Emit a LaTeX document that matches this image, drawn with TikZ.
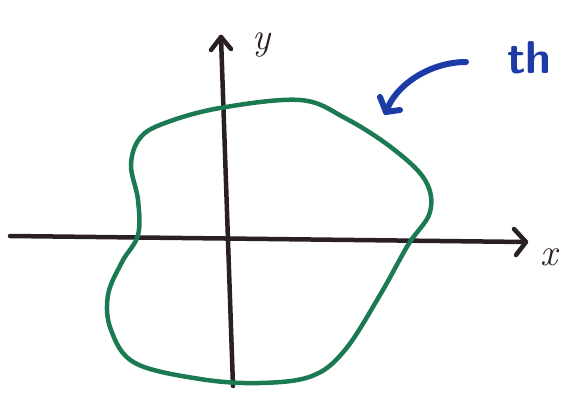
\documentclass[tikz,border=0pt]{standalone}
\usepackage{tikz}
\usetikzlibrary{positioning}
\definecolor{inkblack}{HTML}{2A1F24}
\definecolor{inkgreen}{HTML}{1B7A52}
\definecolor{inkblue}{HTML}{1D3BA6}
\begin{document}
\begin{tikzpicture}[x=1pt, y=-1pt,
    axis/.style={draw=inkblack, line width=4.5pt, line cap=round, line join=round},
    loop/.style={draw=inkgreen, line width=4.5pt},
    pointer/.style={draw=inkblue, line width=6pt, line cap=round, line join=round},
    label/.style={text=inkblack, font=\fontsize{38}{38}\selectfont\itshape, inner sep=0pt}
]
    \useasboundingbox (0,0) rectangle (563,412);

    % Axes
    \coordinate (xstart) at (10,236);
    \coordinate (xend) at (526,242);
    \coordinate (ystart) at (233,386);
    \coordinate (yend) at (221,37);
    \draw[axis] (xstart) -- (xend);
    \draw[axis] (ystart) -- (yend);
    \draw[axis] (514,229) -- (526,242) -- (516,255);
    \draw[axis] (211,50) -- (221,37) -- (231,49);
    \node[label] (xlabel) at (549,257) {x};
    \node[label] (ylabel) at (262,45) {y};

    % Closed curve
    \draw[loop] plot[smooth cycle, tension=0.6] coordinates {
        (220,108) (300,100) (345,118) (392,148) (425,180) (430,212)
        (408,245) (380,295) (345,350) (312,376) (260,383) (200,379)
        (135,363) (111,330) (108,295) (122,262) (138,235) (138,200)
        (131,165) (140,138) (165,123)};

    % Pointer
    \coordinate (ptail) at (466,62);
    \coordinate (phead) at (386,112);
    \draw[pointer] (ptail) .. controls (430,62) and (395,85) .. (phead);
    \draw[pointer] (380,97) -- (386,112) -- (400,110);
    \node[text=inkblue, font=\fontsize{46}{46}\selectfont\sffamily\bfseries, inner sep=0pt, anchor=west] (tag) at (507,58) {th};
\end{tikzpicture}
\end{document}
